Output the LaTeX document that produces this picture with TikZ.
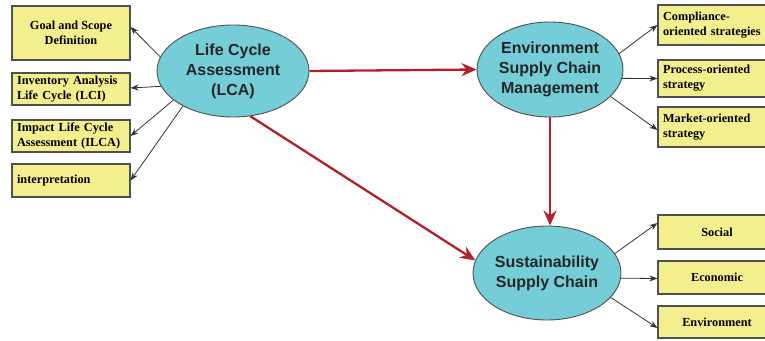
\documentclass[tikz,border=0pt]{standalone}
\usepackage{fontspec}
\setmainfont{Liberation Serif}
\newfontfamily\arialfont{Liberation Sans}
\usetikzlibrary{shapes.geometric,arrows.meta,calc}
\definecolor{boxyellow}{HTML}{F3EF8F}
\definecolor{ellcyan}{HTML}{74CDD7}
\definecolor{arrred}{HTML}{B3202A}
\definecolor{edgegray}{HTML}{505050}
\tikzset{
  box/.style={draw=edgegray, line width=1.1pt, fill=boxyellow, minimum width=118pt, inner sep=0pt, font=\fontsize{12.3}{15}\selectfont\bfseries},
  ell/.style={ellipse, draw=edgegray, line width=0.9pt, fill=ellcyan, inner sep=0pt, align=center, text=black!85, font=\arialfont\fontsize{16}{20}\selectfont\bfseries},
  thinarr/.style={draw=black!80, line width=0.8pt, -{Stealth[length=8pt,width=6pt]}},
  redarr/.style={draw=arrred, line width=2.3pt, -{Stealth[length=15pt,width=13pt]}}
}
\begin{document}
\begin{tikzpicture}[x=1pt,y=-1pt]
\useasboundingbox (0,0) rectangle (765,340);
% left boxes
\node[box, minimum height=54pt, align=center] (b1) at (71,33) {Goal and Scope\\Definition};
\node[box, minimum height=32pt, align=left, text width=108pt] (b2) at (71,89) {Inventory Analysis\\Life Cycle (LCI)};
\node[box, minimum height=32pt, align=left, text width=108pt] (b3) at (71,136) {Impact Life Cycle\\Assessment (ILCA)};
\node[box, minimum height=33pt, align=left, text width=108pt] (b4) at (71,180.5) {interpretation};
% ellipses
\node[ell, minimum width=152pt, minimum height=92pt] (lca) at (233,71) {Life Cycle\\Assessment\\(LCA)};
\node[ell, minimum width=146pt, minimum height=95pt] (escm) at (550,69.5) {Environment\\Supply Chain\\Management};
\node[ell, minimum width=148pt, minimum height=94pt] (ssc) at (547,273) {Sustainability\\Supply Chain};
% right boxes
\node[box, minimum height=40pt, align=left, text width=108pt] (r1) at (717,25) {Compliance-\\oriented strategies};
\node[box, minimum height=37pt, align=left, text width=108pt] (r2) at (717,78.5) {Process-oriented\\strategy};
\node[box, minimum height=40pt, align=left, text width=108pt] (r3) at (717,127) {Market-oriented\\strategy};
\node[box, minimum height=34pt, align=center] (s1) at (717,232) {Social};
\node[box, minimum height=33pt, align=center] (s2) at (717,277.5) {Economic};
\node[box, minimum height=32pt, align=center] (s3) at (717,322) {Environment};
% thin arrows left
\draw[thinarr] (lca.169) -- ([yshift=6pt]b1.east);
\draw[thinarr] (lca.192) -- ([yshift=1pt]b2.east);
\draw[thinarr] (lca.206) -- (b3.east);
\draw[thinarr] (lca.215) -- (b4.east);
% thin arrows right
\draw[thinarr] (escm.13) -- (r1.west);
\draw[thinarr] (escm.353) -- (r2.west);
\draw[thinarr] (escm.336) -- ([yshift=-3pt]r3.west);
\draw[thinarr] (ssc.16) -- ([yshift=9pt]s1.west);
\draw[thinarr] (ssc.356) -- ([yshift=-1pt]s2.west);
\draw[thinarr] (ssc.339) -- ([yshift=-6pt]s3.west);
% red arrows
\draw[redarr] (lca.east) -- (escm.west);
\draw[redarr] (lca.291) -- (ssc.170);
\draw[redarr] (escm.south) -- (escm.south |- ssc.north);
\end{tikzpicture}
\end{document}
